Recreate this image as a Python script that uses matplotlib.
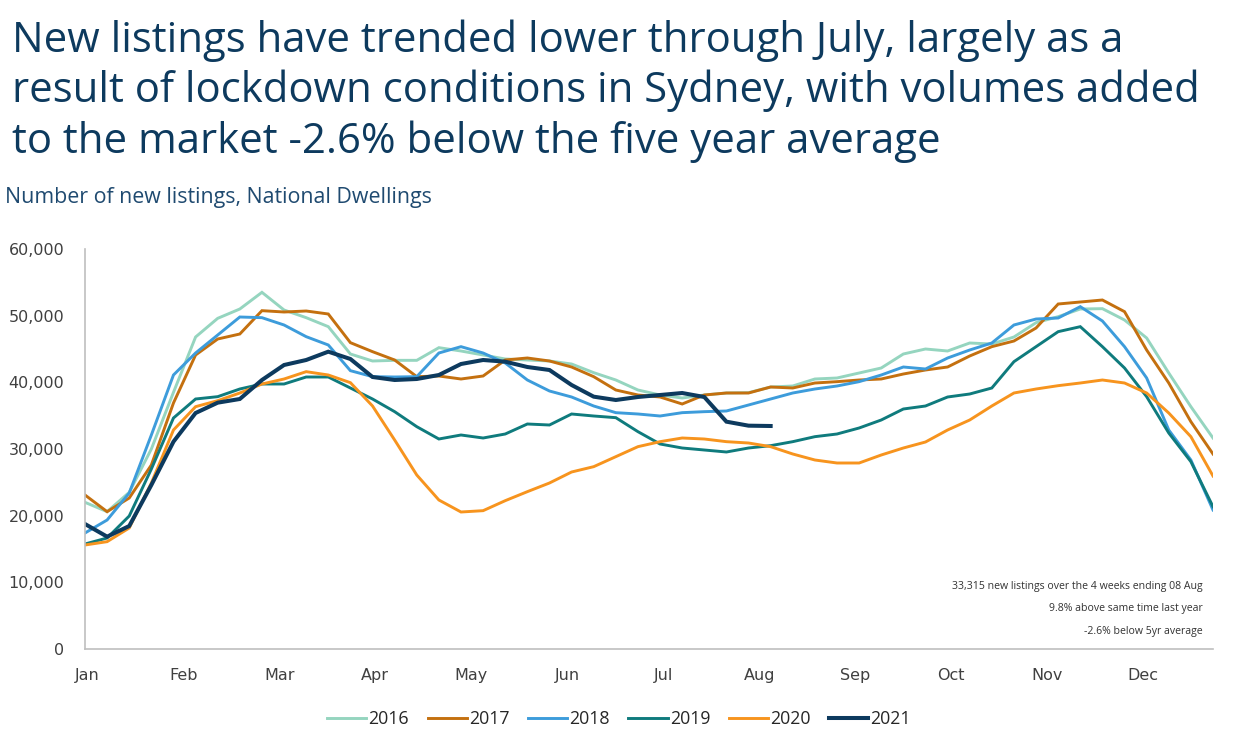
import matplotlib
matplotlib.use("Agg")
import matplotlib.pyplot as plt
from matplotlib.ticker import FuncFormatter

# Datos semanales (52 semanas) de nuevos listados, por año
semanas = list(range(52))
meses = ["Jan", "Feb", "Mar", "Apr", "May", "Jun", "Jul", "Aug", "Sep", "Oct", "Nov", "Dec"]

y2016 = [22000, 20600, 23500, 30000, 38500, 46800, 49600, 51000, 53500, 50850,
         49700, 48350, 44250, 43200, 43300, 43300, 45200, 44700, 44100, 43500,
         43350, 43200, 42750, 41450, 40350, 38850, 38100, 37650, 38100, 38400,
         38450, 39300, 39450, 40500, 40650, 41400, 42150, 44250, 45000, 44700,
         45900, 45750, 46800, 48950, 49850, 51000, 51050, 49350, 46650, 41400,
         36350, 31650]
y2017 = [23100, 20600, 22650, 27600, 36900, 44100, 46500, 47250, 50750, 50550,
         50700, 50250, 45950, 44600, 43350, 40850, 40950, 40500, 40950, 43350,
         43650, 43200, 42300, 40850, 38850, 38100, 37800, 36750, 38100, 38400,
         38400, 39300, 39150, 39900, 40100, 40350, 40500, 41250, 41850, 42300,
         43950, 45350, 46200, 48150, 51750, 52050, 52350, 50600, 44850, 39900,
         34100, 29250]
y2018 = [17400, 19350, 23400, 32100, 41100, 44400, 47100, 49800, 49700, 48600,
         46850, 45600, 41750, 40850, 40800, 40850, 44400, 45350, 44400, 42900,
         40350, 38700, 37800, 36450, 35450, 35250, 34950, 35450, 35600, 35700,
         36600, 37500, 38400, 39000, 39450, 40100, 41100, 42300, 42000, 43650,
         44850, 45900, 48600, 49500, 49650, 51350, 49200, 45350, 40650, 32850,
         28350, 20850]
y2019 = [15750, 16650, 19950, 27000, 34650, 37500, 37850, 39000, 39750, 39750,
         40800, 40800, 39150, 37500, 35600, 33350, 31500, 32100, 31650, 32250,
         33750, 33600, 35250, 34950, 34700, 32600, 30750, 30150, 29850, 29550,
         30150, 30500, 31100, 31850, 32250, 33150, 34350, 36000, 36450, 37800,
         38250, 39150, 43100, 45350, 47600, 48350, 45350, 42150, 37850, 32400,
         28100, 21350]
y2020 = [15600, 16100, 18150, 24900, 32850, 36350, 37250, 38400, 39750, 40500,
         41600, 41100, 39950, 36450, 31350, 26100, 22350, 20550, 20750, 22250,
         23600, 24900, 26550, 27350, 28850, 30350, 31100, 31650, 31500, 31100,
         30900, 30350, 29250, 28350, 27900, 27900, 29100, 30150, 31050, 32850,
         34350, 36450, 38400, 39000, 39500, 39900, 40350, 39900, 38400, 35400,
         31850, 25950]
y2021 = [18750, 16850, 18450, 24600, 31100, 35400, 36950, 37500, 40350, 42600,
         43350, 44600, 43500, 40800, 40350, 40500, 41100, 42750, 43350, 43100,
         42300, 41850, 39600, 37850, 37350, 37800, 38100, 38400, 37800, 34100,
         33500, 33450]

series = [("2016", y2016, "#95D5BF", 2.1),
          ("2017", y2017, "#C4700F", 2.1),
          ("2018", y2018, "#3D9CDB", 2.1),
          ("2019", y2019, "#0F7B7D", 2.1),
          ("2020", y2020, "#F7941E", 2.1),
          ("2021", y2021, "#0D3A5E", 2.9)]

notas = ["33,315 new listings over the 4 weeks ending 08 Aug",
         "9.8% above same time last year",
         "-2.6% below 5yr average"]

W, H = 1239, 740
fig = plt.figure(figsize=(W / 100, H / 100), dpi=100)
ax = fig.add_axes([85 / W, 1 - 649 / H, 1128 / W, 400 / H])

for nombre, vals, color, lw in series:
    ax.plot(semanas[:len(vals)], vals, color=color, lw=lw, label=nombre,
            solid_joinstyle="miter")

ax.set_xlim(0, 51)
ax.set_ylim(0, 60000)
ax.set_yticks(range(0, 60001, 10000))
ax.yaxis.set_major_formatter(FuncFormatter(lambda v, p: f"{int(v):,}"))
ax.set_xticks([0.1 + m * 4.34 for m in range(12)])
ax.set_xticklabels(meses)
ax.tick_params(axis="both", length=0, labelsize=11.5, colors="#404040")
ax.tick_params(axis="x", pad=14)
ax.tick_params(axis="y", pad=15)
for s in ["top", "right"]:
    ax.spines[s].set_visible(False)
for s in ["left", "bottom"]:
    ax.spines[s].set_color("#BFBFBF")
    ax.spines[s].set_linewidth(1.2)

# Notas en la esquina inferior derecha
for i, t in enumerate(notas):
    fig.text(1203 / W, 1 - (589 + 22.5 * i) / H, t, ha="right", va="baseline",
             fontsize=7.6, color="#333333", family="Open Sans")

leg = fig.legend(loc="center", bbox_to_anchor=(619 / W, 1 - 719 / H), ncol=6,
                 frameon=False, handlelength=2.2, handletextpad=0.12,
                 columnspacing=1.05, prop={"family": "Open Sans", "size": 12.8})
for t in leg.get_texts():
    t.set_color("#262626")

# Título y subtítulo
titulo = ["New listings have trended lower through July, largely as a",
          "result of lockdown conditions in Sydney, with volumes added",
          "to the market -2.6% below the five year average"]
for i, t in enumerate(titulo):
    fig.text(12 / W, 1 - (52 + 50.5 * i) / H, t, ha="left", va="baseline",
             fontsize=30.2, color="#0D3A5E", family="Open Sans")
fig.text(5 / W, 1 - 203 / H, "Number of new listings, National Dwellings",
         ha="left", va="baseline", fontsize=15.4, color="#1F4A70", family="Open Sans")

fig.savefig("out.png", dpi=100)
